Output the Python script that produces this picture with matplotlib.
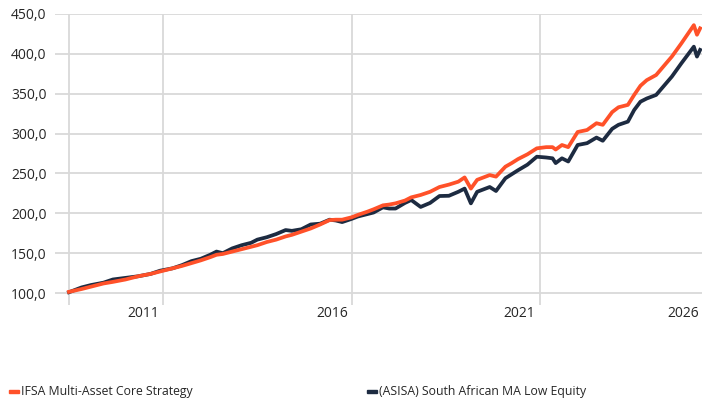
import matplotlib
matplotlib.use("Agg")
import matplotlib.pyplot as plt
from matplotlib.patches import Rectangle

# month labels of the points
dates = ["2009-07", "2009-11", "2010-02", "2010-06", "2010-09", "2011-01", "2011-05",
         "2011-09", "2011-12", "2012-04", "2012-07", "2012-10", "2013-01", "2013-04",
         "2013-06", "2013-08", "2013-11", "2014-02", "2014-05", "2014-07", "2014-10",
         "2015-01", "2015-04", "2015-06", "2015-09", "2015-12", "2016-03", "2016-06",
         "2016-08", "2016-10", "2017-01", "2017-03", "2017-06", "2017-08", "2017-11",
         "2018-01", "2018-03", "2018-06", "2018-08", "2018-11", "2019-02", "2019-05",
         "2019-08", "2019-11", "2020-01", "2020-03", "2020-05", "2020-07", "2020-09",
         "2020-11", "2021-02", "2021-04", "2021-06", "2021-09", "2021-12", "2022-03",
         "2022-05", "2022-06", "2022-08", "2022-10", "2023-01", "2023-04", "2023-07",
         "2023-09", "2023-12", "2024-02", "2024-05", "2024-07", "2024-09", "2024-11",
         "2025-02", "2025-07", "2025-10", "2026-02", "2026-03", "2026-04"]

ifsa = [101.5, 105, 108, 112, 114, 117, 121,
        124, 127, 131, 134, 137.5, 141, 145,
        148, 149, 152, 155, 158, 160, 164,
        167, 171, 173, 177, 181, 186, 191.5,
        192, 192, 195, 198, 202, 205, 210,
        211, 212.5, 216, 220, 223, 227, 233,
        236, 239.7, 245, 231, 242, 245, 248,
        246, 258.5, 263, 268, 274, 281.5, 283,
        283, 280, 285.7, 283, 302, 304.5, 313,
        311, 327, 333, 336, 348.5, 360, 367,
        373.5, 396.6, 413, 436, 424, 432]

asisa = [101, 107, 110, 113, 117, 119, 121,
         124, 128, 131, 135, 140, 143, 148,
         152, 150, 156, 160, 163, 167, 170,
         174, 179, 178, 180, 186, 187, 192,
         191, 189, 193, 196, 199, 201, 207.5,
         206, 206, 213, 216.7, 208, 213, 221.7,
         222, 227, 231, 212.5, 227, 230, 233,
         228, 244, 249, 254, 261, 271, 270,
         269, 263, 269, 265, 285.7, 288, 295,
         291, 306, 311, 315, 329.6, 340, 344,
         348.5, 371.5, 388, 409, 396.6, 405]

names = ["IFSA Multi-Asset Core Strategy", "(ASISA) South African MA Low Equity"]
colors = ["#FF5129", "#1D2B41"]

yticks = [100, 150, 200, 250, 300, 350, 400, 450]
xlabels = ["2011", "2016", "2021", "2026"]


def to_year(s):
    y, m = s.split("-")
    return int(y) + (int(m) - 1) / 12


x = [to_year(d) for d in dates]

plt.rcParams["font.family"] = ["Open Sans", "DejaVu Sans"]

fig = plt.figure(figsize=(7.02, 4.0), dpi=100)
ax = fig.add_axes([55 / 702, 1 - 305 / 400, 647 / 702, 291 / 400])

ax.plot(x, asisa, color=colors[1], lw=2.7, zorder=3, solid_joinstyle="round")
ax.plot(x, ifsa, color=colors[0], lw=2.7, zorder=4, solid_joinstyle="round")

ax.set_ylim(85, 450)
ax.set_xlim(2009.13, 2026.30)

ax.set_yticks(yticks)
ax.set_yticklabels(["{:.1f}".format(v).replace(".", ",") for v in yticks])

# gridlines sit at year starts, labels a little to the left of them
ax.set_xticks([x[0], 2012, 2017, 2022])
ax.set_xticklabels([])
ax.set_xticks([2011.47, 2016.49, 2021.45, 2025.8], minor=True)
ax.set_xticklabels(xlabels, minor=True)

ax.grid(axis="both", which="major", color="#D9D9D9", lw=1.3, zorder=0)
ax.tick_params(axis="both", which="both", length=0, labelsize=10, colors="#262626")
ax.tick_params(axis="y", pad=6)
ax.tick_params(axis="x", which="minor", pad=1)
for s in ax.spines.values():
    s.set_visible(False)

# legend along the bottom
for i, (xs, name) in enumerate(zip([9, 367], names)):
    fig.add_artist(Rectangle((xs / 702, 1 - 393 / 400), 10 / 702, 3.5 / 400,
                             transform=fig.transFigure, color=colors[i]))
    fig.text((xs + 12) / 702, 1 - 392 / 400, name, fontsize=8.8, color="#262626",
             va="center", ha="left")

fig.savefig("out.png", dpi=100)
